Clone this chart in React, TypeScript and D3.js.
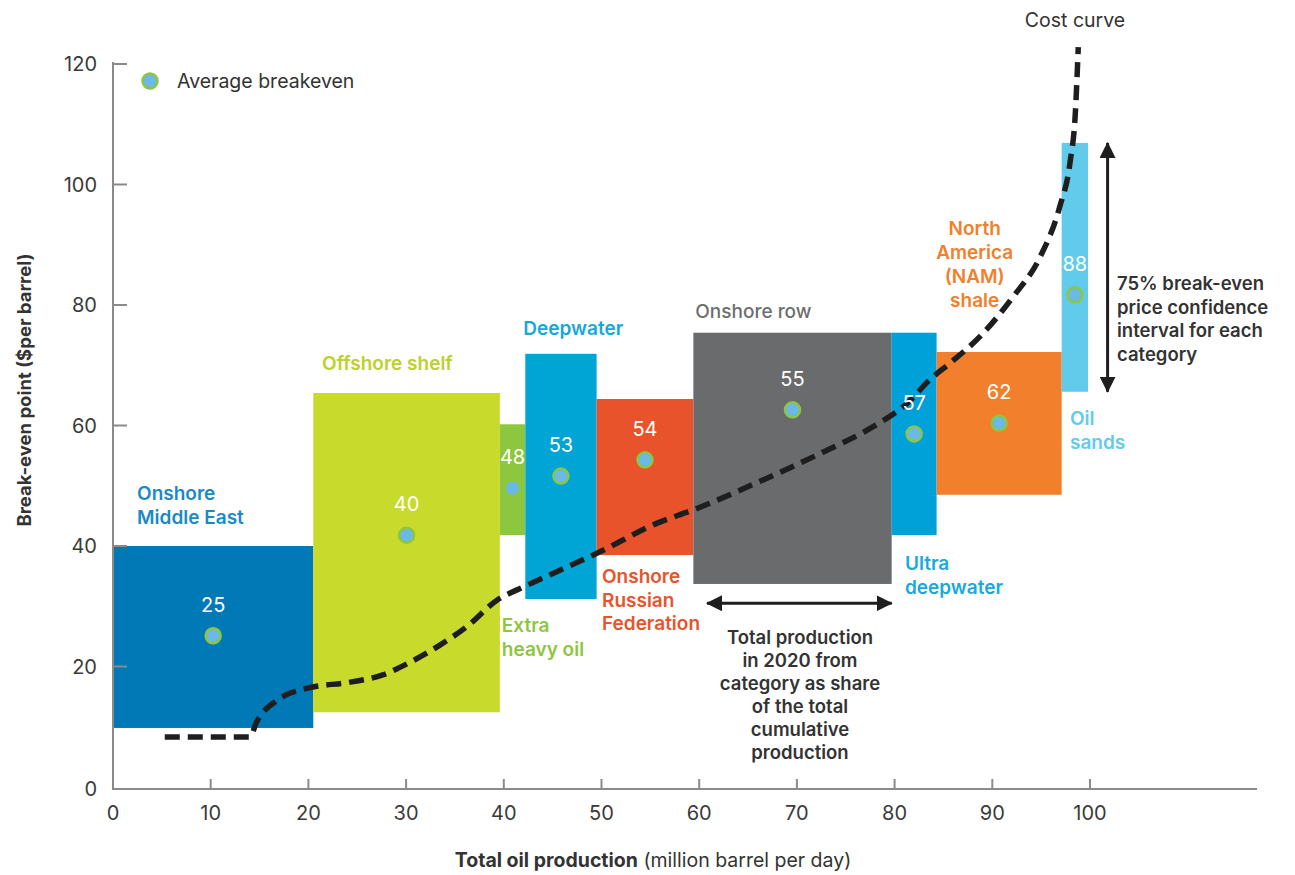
import React from 'react';
import * as d3 from 'd3';

// ---------- data ----------
const categories = [
  'Onshore Middle East', 'Offshore shelf', 'Extra heavy oil', 'Deepwater',
  'Onshore Russian Federation', 'Onshore row', 'Ultra deepwater',
  'North America (NAM) shale', 'Oil sands',
];
const productionStart = [0, 20.5, 39.6, 42.2, 49.5, 59.4, 79.7, 84.3, 97.1];
const productionEnd = [20.5, 39.6, 42.2, 49.5, 59.4, 79.7, 84.3, 97.1, 99.8];
const intervalLow = [9.8, 12.4, 41.8, 31.2, 38.5, 33.7, 41.8, 48.5, 65.6];
const intervalHigh = [40, 65.4, 60.2, 71.9, 64.4, 75.4, 75.4, 72.2, 106.9];
const averageBreakeven = [25.1, 41.8, 49.6, 51.6, 54.3, 62.6, 58.6, 60.4, 81.7];
const averageLabels = ['25', '40', '48', '53', '54', '55', '57', '62', '88'];

const costCurveX = [5.3, 14.0, 14.7, 16.8, 19.9, 24.3, 27.6, 30.4, 33.5, 36.2, 39.3, 42.0, 44.7, 49.8, 55.7, 59.4, 65.9, 72.7, 77.8, 81.3, 83.6, 85.7, 88.7, 92.1, 94.9, 96.9, 97.95, 98.5, 98.8];
const costCurveY = [8.3, 8.3, 10.8, 14.4, 16.4, 17.4, 18.6, 20.7, 23.6, 26.6, 31.0, 33.2, 35.2, 39.0, 43.8, 46.0, 50.5, 55.6, 59.8, 63.7, 67.6, 70.4, 74.7, 81.3, 88.0, 96.3, 103.6, 111.9, 122.8];

const xTicks = [0, 10, 20, 30, 40, 50, 60, 70, 80, 90, 100];
const yTicks = [0, 20, 40, 60, 80, 100, 120];

// ---------- styles ----------
const rectColors = ['#0079b6', '#c8da2b', '#8dc63f', '#00a5d5', '#e9532b', '#6a6b6d', '#00a1d8', '#f17f2b', '#62cbec'];
const labelColors = ['#1a8ac6', '#bcd12c', '#8dc63f', '#17a7d9', '#e9532b', '#6d6e70', '#1aa9dc', '#f0802c', '#62cbec'];
const categoryLines = [
  ['Onshore', 'Middle East'], ['Offshore shelf'], ['Extra', 'heavy oil'], ['Deepwater'],
  ['Onshore', 'Russian', 'Federation'], ['Onshore row'], ['Ultra', 'deepwater'],
  ['North', 'America', '(NAM)', 'shale'], ['Oil', 'sands'],
];
// label anchors in data units (x, baseline y)
const labelAnchorX = [2.46, 21.4, 39.8, 42.0, 50.05, 59.6, 81.06, 88.2, 97.95];
const labelAnchorY = [47.6, 69.2, 25.7, 75.0, 33.9, 77.8, 36.0, 91.6, 60.1];
const labelAnchor = ['start', 'start', 'start', 'start', 'start', 'start', 'start', 'middle', 'start'];

const FONT = 'Inter, "Open Sans", sans-serif';

export default function App() {
  const W = 1295, H = 875;
  const x = d3.scaleLinear().domain([0, 100]).range([113, 1090]);
  const y = d3.scaleLinear().domain([0, 120]).range([787, 64]);
  const axisColor = '#8a8a8a';

  const line = d3.line<number>()
    .x((_, i) => x(costCurveX[i]))
    .y((_, i) => y(costCurveY[i]))
    .curve(d3.curveMonotoneX);

  return (
    <svg width={W} height={H} style={{ position: 'absolute', left: 0, top: 0, background: '#fff' }} fontFamily={FONT}>
      <defs>
        <marker id="ah" viewBox="0 0 16 16" refX="15" refY="8" markerWidth="16" markerHeight="16"
          markerUnits="userSpaceOnUse" orient="auto-start-reverse">
          <path d="M0,0 L16,8 L0,16 z" fill="#1e1e1e" />
        </marker>
      </defs>

      {/* rectangles */}
      {categories.map((c, i) => (
        <rect key={c} x={x(productionStart[i])} y={y(intervalHigh[i])}
          width={x(productionEnd[i]) - x(productionStart[i])}
          height={y(intervalLow[i]) - y(intervalHigh[i])} fill={rectColors[i]} />
      ))}

      {/* axes */}
      <line x1={x(0)} x2={x(0)} y1={y(120) - 2} y2={789} stroke={axisColor} strokeWidth={2} />
      <line x1={x(0) - 1} x2={1257} y1={789} y2={789} stroke={axisColor} strokeWidth={2} />
      {yTicks.map(t => (
        <g key={'y' + t}>
          {t > 0 && <line x1={x(0)} x2={x(0) + 14} y1={y(t)} y2={y(t)} stroke={axisColor} strokeWidth={2} />}
          <text x={97} y={t === 0 ? 789 : y(t)} dy="0.35em" textAnchor="end" fontSize={20} fill="#3a3a3a">{t}</text>
        </g>
      ))}
      {xTicks.map(t => (
        <g key={'x' + t}>
          {t > 0 && <line x1={x(t)} x2={x(t)} y1={789} y2={779} stroke={axisColor} strokeWidth={2} />}
          <text x={x(t)} y={820} textAnchor="middle" fontSize={20} fill="#3a3a3a">{t}</text>
        </g>
      ))}

      {/* axis titles */}
      <text x={653} y={867} textAnchor="middle" fontSize={19.5} fill="#333">
        <tspan fontWeight={700}>Total oil production</tspan>
        <tspan> (million barrel per day)</tspan>
      </text>
      <text transform="translate(31,390) rotate(-90)" textAnchor="middle" fontSize={18.5} fontWeight={700} fill="#333">
        Break-even point ($per barrel)
      </text>

      {/* cost curve */}
      <path d={line(costCurveX) || ''} fill="none" stroke="#1e1e1e" strokeWidth={5.5} strokeDasharray="15,8" />

      {/* average points and value labels */}
      {categories.map((c, i) => {
        const cx = (x(productionStart[i]) + x(productionEnd[i])) / 2;
        const cy = y(averageBreakeven[i]);
        const noRing = i === 2;
        return (
          <g key={'p' + c}>
            <circle cx={cx} cy={cy} r={noRing ? 6.5 : 7.5} fill="#6ab9e6"
              stroke={noRing ? 'none' : '#8dc63f'} strokeWidth={2.5} />
            <text x={cx} y={cy - 31} dy="0.35em" textAnchor="middle" fontSize={20} fill="#fff">{averageLabels[i]}</text>
          </g>
        );
      })}

      {/* category labels */}
      {categories.map((c, i) => (
        <text key={'l' + c} x={x(labelAnchorX[i])} y={y(labelAnchorY[i])} textAnchor={labelAnchor[i]}
          fontSize={19} fontWeight={i === 5 ? 500 : 600} fill={labelColors[i]}>
          {categoryLines[i].map((l, k) => (
            <tspan key={k} x={x(labelAnchorX[i])} dy={k === 0 ? 0 : 23.8}>{l}</tspan>
          ))}
        </text>
      ))}

      {/* legend */}
      <circle cx={150} cy={81} r={7.5} fill="#6ab9e6" stroke="#8dc63f" strokeWidth={2.5} />
      <text x={177} y={88} fontSize={19.5} fill="#333">Average breakeven</text>

      {/* cost curve label */}
      <text x={1075} y={27} textAnchor="middle" fontSize={19.5} fill="#333">Cost curve</text>

      {/* horizontal arrow annotation */}
      <line x1={x(60.8)} x2={x(79.7)} y1={y(30.5)} y2={y(30.5)} stroke="#1e1e1e" strokeWidth={3}
        markerStart="url(#ah)" markerEnd="url(#ah)" />
      <text x={800} y={644} textAnchor="middle" fontSize={18.5} fontWeight={600} fill="#333">
        {['Total production', 'in 2020 from', 'category as share', 'of the total', 'cumulative', 'production'].map((l, k) => (
          <tspan key={k} x={800} dy={k === 0 ? 0 : 23}>{l}</tspan>
        ))}
      </text>

      {/* vertical arrow annotation */}
      <line x1={x(101.8)} x2={x(101.8)} y1={y(106.9)} y2={y(65.6)} stroke="#1e1e1e" strokeWidth={3}
        markerStart="url(#ah)" markerEnd="url(#ah)" />
      <text x={1117} y={290} fontSize={18.5} fontWeight={600} fill="#333">
        {['75% break-even', 'price confidence', 'interval for each', 'category'].map((l, k) => (
          <tspan key={k} x={1117} dy={k === 0 ? 0 : 23.5}>{l}</tspan>
        ))}
      </text>
    </svg>
  );
}
